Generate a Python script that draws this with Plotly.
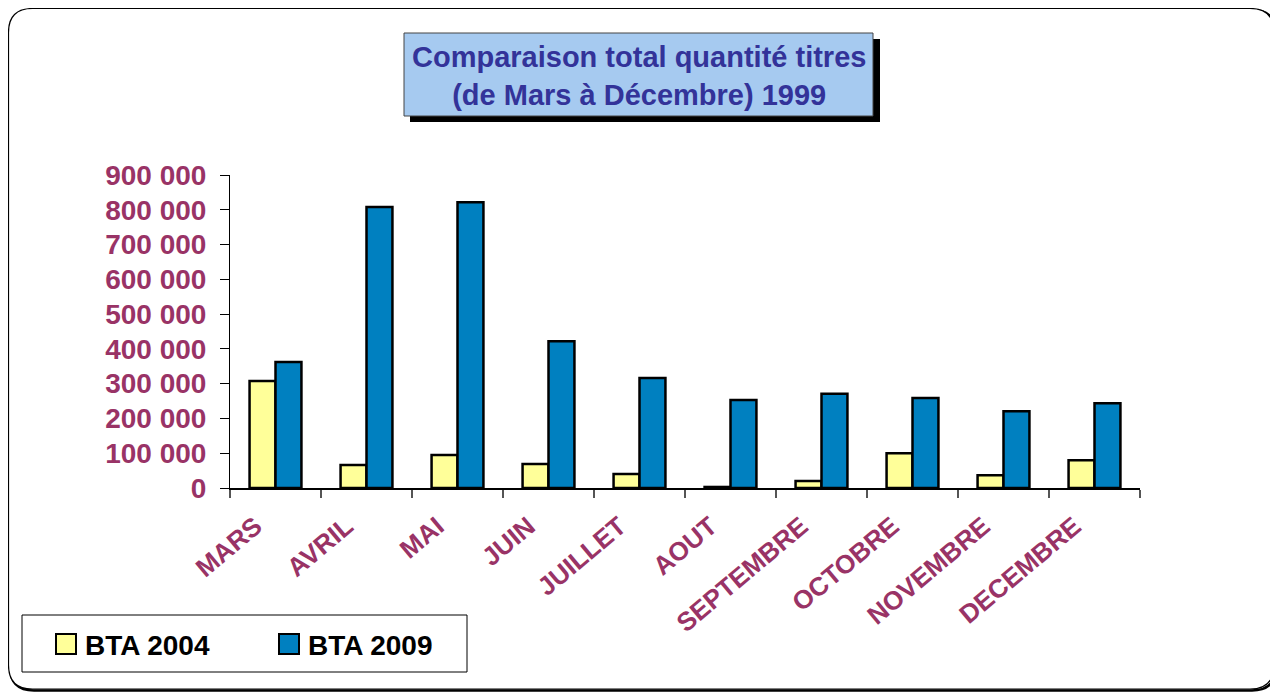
import plotly.graph_objects as go

months = ["MARS", "AVRIL", "MAI", "JUIN", "JUILLET", "AOUT", "SEPTEMBRE",
          "OCTOBRE", "NOVEMBRE", "DECEMBRE"]
bta_2004 = [308000, 66000, 95000, 69000, 40000, 3000, 20000, 100000, 37000, 80000]
bta_2009 = [362000, 808000, 822000, 422000, 316000, 253000, 271000, 259000, 221000, 244000]
y_ticks = [0, 100000, 200000, 300000, 400000, 500000, 600000, 700000, 800000, 900000]
series_names = ["BTA 2004", "BTA 2009"]
series_colors = ["#FFFF99", "#0080C0"]

OFF = 8  # page body margin
W, H = 1270, 684
L, R, T, B = 230, 1140, 175, 488  # plot area in page pixels

def px(x):
    return (x - L) / (R - L)

def py(y):
    return (B - y) / (B - T)

FONT = "Liberation Sans, Arial, sans-serif"
MAROON = "#993366"

fig = go.Figure()
for name, vals, col in zip(series_names, [bta_2004, bta_2009], series_colors):
    fig.add_trace(go.Bar(name=name, x=months, y=vals, showlegend=False,
                         marker=dict(color=col, line=dict(color="black", width=2.5))))

shapes = []
# gradient background of the plot area
n = 90
top = (0xA6, 0xCA, 0xF0)
for i in range(n):
    t = i / (n - 1)
    c = tuple(int(round(top[k] + (255 - top[k]) * t)) for k in range(3))
    shapes.append(dict(type="rect", xref="paper", yref="paper", layer="below",
                       x0=0, x1=1, y0=1 - (i + 1) / n, y1=1 - i / n + 0.002,
                       line=dict(width=0), fillcolor="rgb(%d,%d,%d)" % c))

def rounded(x0, y0, x1, y1, r):
    return ("M %f,%f L %f,%f Q %f,%f %f,%f L %f,%f Q %f,%f %f,%f "
            "L %f,%f Q %f,%f %f,%f L %f,%f Q %f,%f %f,%f Z") % (
        px(x0 + r), py(y0), px(x1 - r), py(y0), px(x1), py(y0), px(x1), py(y0 + r),
        px(x1), py(y1 - r), px(x1), py(y1), px(x1 - r), py(y1),
        px(x0 + r), py(y1), px(x0), py(y1), px(x0), py(y1 - r),
        px(x0), py(y0 + r), px(x0), py(y0), px(x0 + r), py(y0))

# outer frame with shadow
shapes.append(dict(type="path", xref="paper", yref="paper", layer="below",
                   path=rounded(10, 10, 1276, 690.5, 24), line=dict(color="black", width=2.5)))
shapes.append(dict(type="path", xref="paper", yref="paper", layer="below",
                   path=rounded(8.5, 8.5, 1274, 689, 24), line=dict(color="black", width=1.2),
                   fillcolor="white"))
# title box with shadow
shapes.append(dict(type="rect", xref="paper", yref="paper",
                   x0=px(410), x1=px(880), y0=py(122), y1=py(39),
                   line=dict(width=0), fillcolor="black"))
shapes.append(dict(type="rect", xref="paper", yref="paper",
                   x0=px(404), x1=px(873), y0=py(116), y1=py(33),
                   line=dict(color="#444444", width=1), fillcolor="#A6CAF0"))
# legend box
shapes.append(dict(type="rect", xref="paper", yref="paper",
                   x0=px(22), x1=px(467), y0=py(672), y1=py(615),
                   line=dict(color="black", width=1), fillcolor="white"))

annotations = [dict(xref="paper", yref="paper", x=px(638.5), y=py(76), xanchor="center",
                    yanchor="middle", showarrow=False, align="center",
                    text="<b>Comparaison total quantité titres<br>(de Mars à Décembre) 1999</b>",
                    font=dict(family=FONT, size=29, color="#333399"))]

legend_icon_x = [56, 279]
for name, col, ix in zip(series_names, series_colors, legend_icon_x):
    shapes.append(dict(type="rect", xref="paper", yref="paper",
                       x0=px(ix), x1=px(ix + 20), y0=py(654), y1=py(634),
                       line=dict(color="black", width=2), fillcolor=col))
    annotations.append(dict(xref="paper", yref="paper", x=px(ix + 27), y=py(645),
                            xanchor="left", yanchor="middle", showarrow=False,
                            text="<b>%s</b>" % name,
                            font=dict(family=FONT, size=28, color="black")))

fig.update_layout(
    width=W, height=H,
    margin=dict(l=L - OFF, r=OFF + W - R, t=T - OFF, b=OFF + H - B, pad=0),
    paper_bgcolor="white", plot_bgcolor="rgba(0,0,0,0)",
    barmode="group", bargap=0.43, bargroupgap=0,
    separators=", ",
    font=dict(family=FONT, size=28, color="black"),
    shapes=shapes,
    annotations=annotations,
    showlegend=False,
    xaxis=dict(showgrid=False, showline=True, linecolor="black", linewidth=2,
               ticks="outside", tickson="boundaries", ticklen=8, tickcolor="#555555",
               tickwidth=1.5, tickangle=-40,
               tickfont=dict(family=FONT, size=26, color=MAROON, weight="bold"),
               ticklabelstandoff=11, ticklabelshift=-20),
    yaxis=dict(range=[0, 900000], tickvals=y_ticks, tickformat=",d", showgrid=False,
               showline=True, linecolor="black", linewidth=1, ticks="outside", ticklen=9,
               tickcolor="black", zeroline=False,
               tickfont=dict(family=FONT, size=28, color=MAROON, weight="bold"),
               ticklabelstandoff=8),
)

fig.write_html("out.html")
